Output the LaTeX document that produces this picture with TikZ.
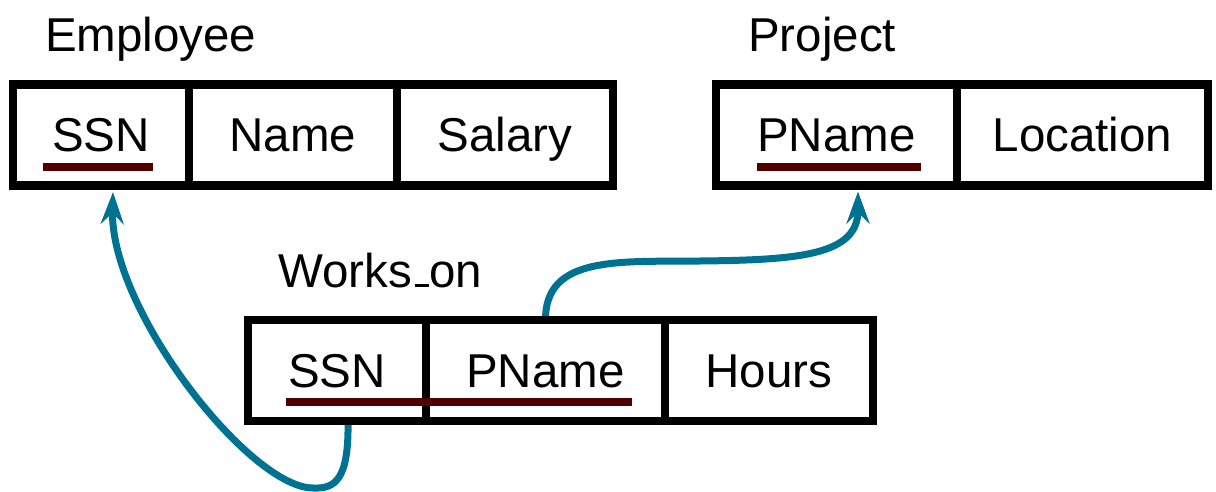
\documentclass[tikz,border=0pt]{standalone}
\usepackage{fontspec}
\setmainfont{Liberation Sans}
\usetikzlibrary{arrows.meta,backgrounds}
\definecolor{keyred}{RGB}{80,0,0}
\definecolor{fkteal}{RGB}{0,114,145}
\tikzset{
  cell/.style={draw=black, line width=8.5pt, rectangle, inner sep=0pt, outer sep=0pt,
               minimum height=101pt, text height=34pt, text depth=0pt,
               font=\fontsize{47.5}{57}\selectfont},
  title/.style={anchor=base west, inner sep=0pt, font=\fontsize{47.5}{57}\selectfont},
  keyline/.style={draw=keyred, line width=8pt},
  fklink/.style={draw=fkteal, line width=7pt,
                 -{Stealth[length=32pt,width=23pt,inset=11pt]}}
}
\begin{document}
\begin{tikzpicture}[x=1pt,y=-1pt]
\useasboundingbox (0,0) rectangle (1216,492);

% relation titles
\node[title] (temp) at (45,52) {Employee};
\node[title] (tproj) at (748,52) {Project};
\node[title] (twork) at (278,287) {Works\kern.06em\vbox{\hrule width.3em height 3.5pt}on};

% Employee
\node[cell, minimum width=176pt] (essn)  at (101,135) {SSN};
\node[cell, minimum width=208pt] (ename) at (293,135) {Name};
\node[cell, minimum width=216pt] (esal)  at (505,135) {Salary};

% Project
\node[cell, minimum width=241pt] (ppname) at (836.5,135) {PName};
\node[cell, minimum width=251pt] (ploc)   at (1082.5,135) {Location};

% Works_on
\node[cell, minimum width=178pt] (wssn)   at (337,370.5) {SSN};
\node[cell, minimum width=239pt] (wpname) at (545.5,370.5) {PName};
\node[cell, minimum width=208pt] (whours) at (769,370.5) {Hours};

% primary keys
\draw[keyline] (43,167) -- (153,167);
\draw[keyline] (757,167) -- (921,167);
\draw[keyline] (286,402) -- (632,402);

% foreign key references, kept under the table borders
\begin{pgfonlayer}{background}
\draw[fklink] ([xshift=11pt]wssn.south) .. controls (349,480) and (335,489) .. (313,488)
  .. controls (250,488) and (110,310) .. ([xshift=12pt,yshift=-6.5pt]essn.south);
\draw[fklink] (wpname.north) .. controls (545,255) and (620,262) .. (700,261)
  .. controls (800,260) and (858,255) .. ([xshift=21.5pt,yshift=-6pt]ppname.south);
\end{pgfonlayer}
\end{tikzpicture}
\end{document}
